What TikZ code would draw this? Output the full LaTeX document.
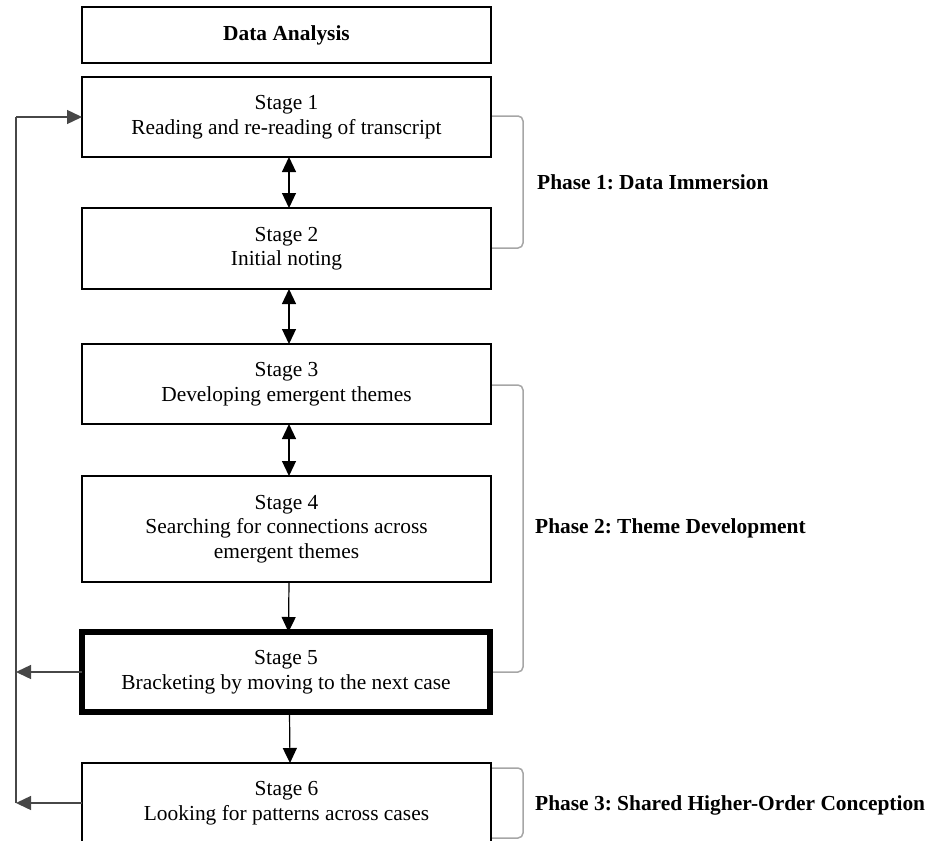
\documentclass[tikz,border=0pt]{standalone}
\usepackage{fontspec}
\setmainfont{Liberation Serif}
\usetikzlibrary{arrows.meta}
\frenchspacing
\begin{document}
\begin{tikzpicture}[x=1pt,y=-1pt,
  txt/.style={font=\fontsize{21.4}{24.5}\selectfont},
  stagebox/.style={txt, draw=black, line width=1.8pt, minimum width=409pt,
    inner sep=0pt, outer sep=0pt, align=center, fill=white},
  keybox/.style={stagebox, line width=6pt, minimum width=408pt},
  link/.style={line width=1.2pt, draw=black},
  tip/.style={-{Triangle[length=15pt,width=14pt]}},
  both/.style={{Triangle[length=15pt,width=14pt]}-{Triangle[length=15pt,width=14pt]}},
  loopline/.style={line width=1.4pt, draw=black!72},
  brace/.style={line width=1.5pt, draw=black!35, rounded corners=5pt},
  phase/.style={anchor=west, inner sep=0pt, font=\fontsize{21.4}{24.5}\selectfont\bfseries}
]
\useasboundingbox (0,0) rectangle (935,841);

% boxes
\node[stagebox, minimum height=56pt, font=\fontsize{21.4}{24.5}\selectfont\bfseries] (da) at (286.5,35) {Data Analysis};
\node[stagebox, minimum height=80pt] (s1) at (286.5,117) {Stage 1\\Reading and re-reading of transcript};
\node[stagebox, minimum height=81pt] (s2) at (286.5,248.5) {Stage 2\\Initial noting};
\node[stagebox, minimum height=80pt] (s3) at (286.5,384) {Stage 3\\Developing emergent themes};
\node[stagebox, minimum height=106pt] (s4) at (286.5,529) {Stage 4\\Searching for connections across\\emergent themes};
\node[keybox, minimum height=80pt] (s5) at (286,672) {Stage 5\\Bracketing by moving to the next case};
\node[stagebox, minimum height=80pt] (s6) at (286.5,803) {Stage 6\\Looking for patterns across cases};

% connectors between stages
\draw[link,both] ([xshift=2.5pt]s1.south) -- ([xshift=2.5pt]s2.north);
\draw[link,both] ([xshift=2.5pt]s2.south) -- ([xshift=2.5pt]s3.north);
\draw[link,both] ([xshift=2.5pt]s3.south) -- ([xshift=2.5pt]s4.north);
\draw[link,tip] ([xshift=2.5pt]s4.south) -- ([xshift=2.5pt]s5.north);
\draw[link,tip] ([xshift=3.5pt]s5.south) -- ([xshift=3.5pt]s6.north);

% feedback loop on the left
\coordinate (fbx) at (16,0);
\draw[loopline] (s6.west -| fbx) -- (s1.west -| fbx);
\draw[loopline,tip] (s1.west -| fbx) -- (s1.west);
\draw[loopline,tip] (s5.west) -- (s5.west -| fbx);
\draw[loopline,tip] (s6.west) -- (s6.west -| fbx);

% phase brackets
\coordinate (bx) at (523,0);
\coordinate (b1t) at (492,116);
\coordinate (b1b) at (492,248);
\coordinate (b2t) at (492,385);
\coordinate (b2b) at (493,672);
\coordinate (b3t) at (492,768);
\coordinate (b3b) at (492,838);
\draw[brace] (b1t) -- (b1t -| bx) -- (b1b -| bx) -- (b1b);
\draw[brace] (b2t) -- (b2t -| bx) -- (b2b -| bx) -- (b2b);
\draw[brace] (b3t) -- (b3t -| bx) -- (b3b -| bx) -- (b3b);

\node[phase] (p1) at (537,182) {Phase 1: Data Immersion};
\node[phase] (p2) at (535,528) {Phase 2: Theme Development};
\node[phase] (p3) at (535,805) {Phase 3: Shared Higher-Order Conception};
\end{tikzpicture}
\end{document}
